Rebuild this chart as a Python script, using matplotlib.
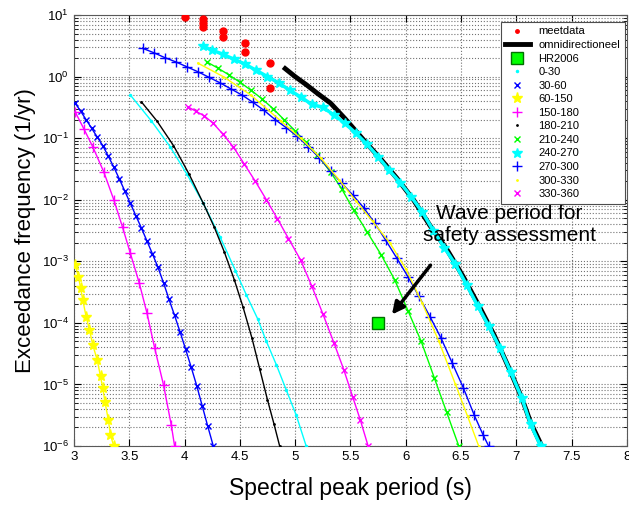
import numpy as np
import matplotlib
matplotlib.use("Agg")
import matplotlib.pyplot as plt
from matplotlib.lines import Line2D

plt.rcParams['font.family'] = ['Liberation Sans', 'DejaVu Sans']

# measured data (red dots)
meet_x = [4.00, 4.17, 4.17, 4.17, 4.35, 4.35, 4.55, 4.55, 4.77, 4.77]
meet_y = [9.4, 8.5, 7.3, 6.3, 5.5, 4.45, 3.55, 2.54, 1.64, 0.65]

# omnidirectional curve (log10 of frequency)
omni_x = [4.91, 5.00, 5.10, 5.20, 5.32, 5.45, 5.62, 5.77, 5.92, 6.07, 6.22, 6.37,
          6.52, 6.67, 6.80, 6.95, 7.05, 7.13, 7.23]
omni_log = [0.13, 0.0, -0.13, -0.27, -0.43, -0.68, -1.03, -1.33, -1.65, -2.0, -2.42,
            -2.80, -3.25, -3.75, -4.20, -4.80, -5.22, -5.62, -6.0]

hr_x = [5.75]
hr_y = [1e-4]

# directional sectors
d0_30_x = [3.51, 3.70, 3.87, 4.02, 4.17, 4.32, 4.46, 4.56, 4.66, 4.74, 4.83, 4.92, 5.01, 5.10]
d0_30_log = [-0.30, -0.72, -1.14, -1.58, -2.06, -2.60, -3.15, -3.55, -3.93, -4.30, -4.68,
             -5.09, -5.50, -6.0]

d30_60_x = [3.01, 3.06, 3.11, 3.16, 3.21, 3.26, 3.31, 3.36, 3.41, 3.46, 3.51, 3.56, 3.61,
            3.66, 3.71, 3.76, 3.81, 3.86, 3.91, 3.96, 4.01, 4.06, 4.11, 4.16, 4.21, 4.26]
d30_60_log = [-0.43, -0.56, -0.70, -0.84, -0.98, -1.12, -1.29, -1.47, -1.66, -1.86, -2.06,
              -2.26, -2.46, -2.67, -2.88, -3.10, -3.35, -3.62, -3.88, -4.15, -4.43, -4.72,
              -5.02, -5.35, -5.68, -6.0]

d60_150_x = [3.01, 3.04, 3.06, 3.08, 3.11, 3.14, 3.17, 3.21, 3.24, 3.26, 3.28, 3.31, 3.33, 3.36]
d60_150_log = [-3.06, -3.25, -3.43, -3.63, -3.90, -4.11, -4.36, -4.60, -4.87, -5.05, -5.28,
               -5.57, -5.82, -6.0]

d150_180_x = [3.01, 3.09, 3.17, 3.27, 3.36, 3.44, 3.51, 3.59, 3.66, 3.73, 3.81, 3.88, 3.91]
d150_180_log = [-0.57, -0.85, -1.14, -1.55, -2.0, -2.45, -2.87, -3.35, -3.84, -4.41, -5.01,
                -5.66, -6.0]

d180_210_x = [3.61, 3.75, 3.90, 4.04, 4.17, 4.27, 4.36, 4.45, 4.53, 4.61, 4.68, 4.75, 4.81, 4.86]
d180_210_log = [-0.41, -0.72, -1.12, -1.58, -2.06, -2.45, -2.85, -3.30, -3.75, -4.25, -4.75,
                -5.25, -5.65, -6.0]

d210_240_x = [4.20, 4.30, 4.40, 4.50, 4.60, 4.70, 4.80, 4.90, 5.00, 5.10, 5.20, 5.32, 5.42,
              5.53, 5.65, 5.78, 5.90, 6.02, 6.14, 6.26, 6.37, 6.48]
d210_240_log = [0.24, 0.14, 0.03, -0.09, -0.22, -0.36, -0.52, -0.70, -0.88, -1.07, -1.27,
                -1.55, -1.82, -2.17, -2.52, -2.90, -3.30, -3.80, -4.30, -4.90, -5.45, -6.0]

d240_270_x = [4.17, 4.25, 4.35, 4.45, 4.55, 4.65, 4.75, 4.85, 4.95, 5.05, 5.15, 5.25, 5.35,
              5.45, 5.55, 5.65, 5.75, 5.85, 5.95, 6.05, 6.15, 6.25, 6.35, 6.45, 6.55, 6.65,
              6.75, 6.85, 6.95, 7.05, 7.13, 7.22]
d240_270_log = [0.49, 0.43, 0.36, 0.28, 0.20, 0.10, 0.0, -0.10, -0.22, -0.33, -0.45, -0.50,
                -0.62, -0.76, -0.92, -1.10, -1.30, -1.52, -1.72, -1.95, -2.20, -2.50, -2.78,
                -3.05, -3.38, -3.72, -4.05, -4.40, -4.80, -5.22, -5.65, -6.0]

d270_300_x = [3.62, 3.72, 3.82, 3.92, 4.02, 4.12, 4.22, 4.32, 4.42, 4.52, 4.62, 4.72, 4.82,
              4.92, 5.02, 5.12, 5.22, 5.32, 5.42, 5.52, 5.62, 5.72, 5.82, 5.92, 6.02, 6.12,
              6.22, 6.32, 6.42, 6.52, 6.62, 6.70, 6.75]
d270_300_log = [0.46, 0.39, 0.31, 0.24, 0.16, 0.08, -0.01, -0.10, -0.20, -0.30, -0.42, -0.55,
                -0.70, -0.83, -0.97, -1.14, -1.32, -1.53, -1.73, -1.92, -2.13, -2.38, -2.66,
                -2.95, -3.25, -3.57, -3.90, -4.25, -4.65, -5.05, -5.50, -5.82, -6.0]

d300_330_x = [4.12, 4.35, 4.60, 4.87, 5.05, 5.23, 5.40, 5.55, 5.70, 5.86, 6.00, 6.15, 6.30,
              6.45, 6.56, 6.66]
d300_330_log = [0.22, 0.0, -0.30, -0.72, -1.0, -1.32, -1.68, -2.02, -2.35, -2.71, -3.12,
                -3.68, -4.30, -5.0, -5.52, -6.0]

d330_360_x = [4.03, 4.10, 4.18, 4.26, 4.35, 4.44, 4.54, 4.64, 4.74, 4.84, 4.94, 5.05, 5.15,
              5.25, 5.35, 5.44, 5.52, 5.59, 5.66]
d330_360_log = [-0.49, -0.56, -0.64, -0.76, -0.94, -1.14, -1.42, -1.70, -2.0, -2.31, -2.63,
                -2.98, -3.40, -3.85, -4.32, -4.76, -5.20, -5.58, -6.0]

fig = plt.figure(figsize=(6.29, 5.07), dpi=100)
ax = fig.add_axes([0.1176, 0.1203, 0.879, 0.850])

def p10(a):
    return 10 ** np.array(a)

# sector curves: (name, x, log y, color, marker, markersize)
sectors = [
    ("0-30", d0_30_x, d0_30_log, "cyan", ".", 3),
    ("30-60", d30_60_x, d30_60_log, "blue", "x", 5),
    ("60-150", d60_150_x, d60_150_log, "yellow", "*", 8),
    ("150-180", d150_180_x, d150_180_log, "magenta", "+", 7),
    ("180-210", d180_210_x, d180_210_log, "black", ".", 2),
    ("210-240", d210_240_x, d210_240_log, "lime", "x", 5),
    ("240-270", d240_270_x, d240_270_log, "cyan", "*", 7),
    ("270-300", d270_300_x, d270_300_log, "blue", "+", 7),
    ("300-330", d300_330_x, d300_330_log, "yellow", ".", 2),
    ("330-360", d330_360_x, d330_360_log, "magenta", "x", 5),
]

ax.plot(omni_x, p10(omni_log), color="black", lw=3.5, zorder=2)
for name, xs, ls, c, m, ms in sectors:
    lw = 2.5 if name == "240-270" else 1
    ax.plot(xs, p10(ls), color=c, marker=m, ms=ms, lw=lw, mew=1, zorder=3)
ax.plot(meet_x, meet_y, "o", color="red", ms=5, zorder=4)
ax.plot(hr_x, hr_y, "s", color="lime", mec="#007000", ms=8, zorder=4)

ax.set_yscale("log")
ax.set_xlim(3, 8)
ax.set_ylim(1e-6, 10)
ax.set_xticks(np.arange(3, 8.01, 0.5))
ax.set_xticklabels(["3", "3.5", "4", "4.5", "5", "5.5", "6", "6.5", "7", "7.5", "8"])
ax.tick_params(which="both", direction="in", top=True, right=True, labelsize=9.5)
ax.tick_params(which="major", length=5)
ax.tick_params(which="minor", length=3)
ax.grid(True, which="major", linestyle=":", color="0.45", lw=0.8)
ax.grid(True, which="minor", axis="y", linestyle=":", color="0.45", lw=0.8)
for s in ax.spines.values():
    s.set_color("0.35")

ax.set_xlabel("Spectral peak period (s)", fontsize=16.5, labelpad=10)
ax.set_ylabel("Exceedance frequency (1/yr)", fontsize=16, labelpad=4)

ax.annotate("", xy=(5.86, 1.26e-4), xytext=(6.24, 9.4e-4),
            arrowprops=dict(arrowstyle="-|>", color="black", lw=2.5, mutation_scale=18),
            zorder=5)
ax.text(6.94, 3.9e-3, "Wave period for\nsafety assessment", fontsize=15,
        ha="center", va="center", zorder=5)

handles = [
    Line2D([], [], color="red", marker=".", ls="none", ms=5),
    Line2D([], [], color="black", lw=3.5),
    Line2D([], [], color="lime", marker="s", mec="#007000", ls="none", ms=9),
]
labels = ["meetdata", "omnidirectioneel", "HR2006"]
for name, xs, ls, c, m, ms in sectors:
    handles.append(Line2D([], [], color=c, marker=m, ls="none", ms=ms))
    labels.append(name)
leg = ax.legend(handles, labels, loc="upper right", bbox_to_anchor=(0.996, 0.984),
                borderaxespad=0, fontsize=8, labelspacing=0.32, handlelength=2.2,
                fancybox=False, framealpha=1, edgecolor="0.3", borderpad=0.4)
leg.get_frame().set_linewidth(0.8)

fig.savefig("out.png", dpi=100)
